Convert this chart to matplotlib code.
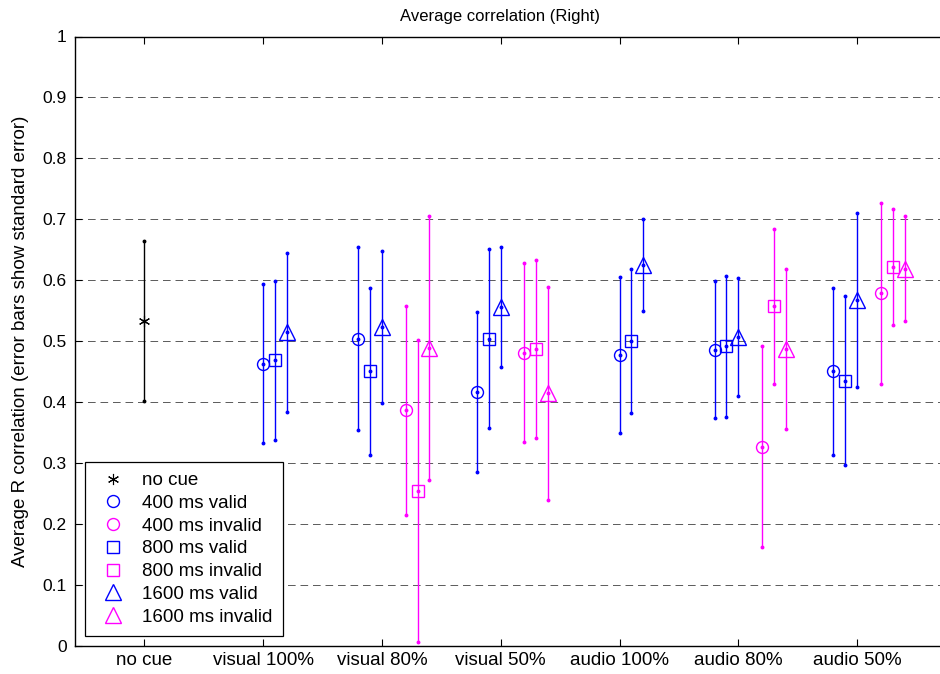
import numpy as np
import matplotlib
matplotlib.use("Agg")
import matplotlib.pyplot as plt

plt.rcParams['font.family'] = ['Liberation Sans', 'DejaVu Sans']
plt.rcParams['lines.scale_dashes'] = False

categories = ["no cue", "visual 100%", "visual 80%", "visual 50%",
              "audio 100%", "audio 80%", "audio 50%"]
yticks = [0, 0.1, 0.2, 0.3, 0.4, 0.5, 0.6, 0.7, 0.8, 0.9, 1]
ytick_labels = ["0", "0.1", "0.2", "0.3", "0.4", "0.5", "0.6", "0.7", "0.8", "0.9", "1"]

# no cue
nocue_mean = 0.533
nocue_se = 0.131

# valid conditions (visual 100%, visual 80%, visual 50%, audio 100%, audio 80%, audio 50%)
valid_cats = ["visual 100%", "visual 80%", "visual 50%", "audio 100%", "audio 80%", "audio 50%"]
v400_mean = [0.463, 0.504, 0.416, 0.477, 0.486, 0.450]
v400_se = [0.131, 0.150, 0.131, 0.128, 0.112, 0.137]
v800_mean = [0.468, 0.450, 0.504, 0.500, 0.491, 0.435]
v800_se = [0.130, 0.137, 0.147, 0.119, 0.115, 0.139]
v1600_mean = [0.514, 0.523, 0.556, 0.625, 0.507, 0.568]
v1600_se = [0.131, 0.125, 0.099, 0.076, 0.097, 0.143]

# invalid conditions (visual 80%, visual 50%, audio 80%, audio 50%)
invalid_cats = ["visual 80%", "visual 50%", "audio 80%", "audio 50%"]
i400_mean = [0.386, 0.481, 0.326, 0.578]
i400_se = [0.171, 0.147, 0.165, 0.148]
i800_mean = [0.253, 0.487, 0.557, 0.622]
i800_se = [0.248, 0.146, 0.127, 0.095]
i1600_mean = [0.488, 0.414, 0.487, 0.619]
i1600_se = [0.217, 0.175, 0.131, 0.086]

BLUE = (0, 0, 1)
MAG = (1, 0, 1)

fig = plt.figure(figsize=(9.4, 6.74), dpi=100)
W, H = 940, 674
ax_left, ax_right, ax_top, ax_bot = 75, 976, 36.5, 645.5
ax = fig.add_axes([ax_left / W, 1 - ax_bot / H, (ax_right - ax_left) / W, (ax_bot - ax_top) / H])

cat_pos = {c: i + 1 for i, c in enumerate(categories)}

def xs(cats, offset):
    out = []
    for c in cats:
        base = cat_pos[c]
        # 100% conditions have no invalid trials; valid markers start at the tick
        if c.endswith("100%"):
            out.append(base + offset + 0.2)
        else:
            out.append(base + offset)
    return np.array(out)

def draw(x, m, s, color, marker, ms, label, mew=1.0):
    m = np.asarray(m, float); s = np.asarray(s, float); x = np.asarray(x, float)
    ax.errorbar(x, m, yerr=s, fmt='none', ecolor=color, elinewidth=1.0, capsize=0, zorder=3)
    ax.plot(np.concatenate([x, x, x]), np.concatenate([m - s, m, m + s]), linestyle='none',
            marker='o', ms=1.8, mfc=color, mec=color, zorder=4)
    ax.plot(x, m, linestyle='none', marker=marker, ms=ms, mfc='none', mec=color,
            mew=mew, zorder=5, label=label)

# no cue
x0 = np.array([cat_pos["no cue"]], float)
draw(x0, [nocue_mean], [nocue_se], 'k', (6, 2, 0), 8, "no cue", mew=0.8)

draw(xs(valid_cats, -0.2), v400_mean, v400_se, BLUE, 'o', 8.6, "400 ms valid")
draw(xs(invalid_cats, 0.2), i400_mean, i400_se, MAG, 'o', 8.6, "400 ms invalid")
draw(xs(valid_cats, -0.1), v800_mean, v800_se, BLUE, 's', 9.0, "800 ms valid")
draw(xs(invalid_cats, 0.3), i800_mean, i800_se, MAG, 's', 9.0, "800 ms invalid")
draw(xs(valid_cats, 0.0), v1600_mean, v1600_se, BLUE, '^', 11.5, "1600 ms valid")
draw(xs(invalid_cats, 0.4), i1600_mean, i1600_se, MAG, '^', 11.5, "1600 ms invalid")

ax.set_xlim(0.417, 8.0)
ax.set_ylim(0, 1)
ax.set_xticks(range(1, len(categories) + 1))
ax.set_xticklabels(categories, fontsize=13.5)
ax.set_yticks(yticks)
ax.set_yticklabels(ytick_labels, fontsize=12.5)
ax.tick_params(direction='in', length=5, width=0.8, top=True, right=False)
ax.tick_params(axis='x', pad=5)
ax.tick_params(axis='y', pad=6)
ax.yaxis.grid(True, color='k', linestyle=(0, (5.5, 3.5)), linewidth=0.6, alpha=0.75)
ax.set_axisbelow(True)
for sp in ax.spines.values():
    sp.set_linewidth(1.0)

ax.set_ylabel("Average R correlation (error bars show standard error)", fontsize=13.5, labelpad=10)
fig.text(500 / W, 1 - 16 / H, "Average correlation (Right)", ha='center', va='center', fontsize=12)

leg = ax.legend(loc='lower left', bbox_to_anchor=(85 / W, 1 - 636 / H), bbox_transform=fig.transFigure,
                borderaxespad=0, fancybox=False, framealpha=1, edgecolor='k', fontsize=13.5,
                handlelength=1.9, handletextpad=0.6, labelspacing=0.30, borderpad=0.55, numpoints=1)
leg.get_frame().set_linewidth(0.9)

fig.savefig("out.png", dpi=100)
